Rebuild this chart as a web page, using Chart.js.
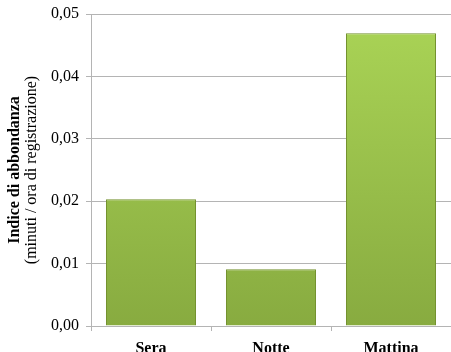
<!DOCTYPE html>
<html>
<head>
<meta charset="utf-8">
<script src="https://cdn.jsdelivr.net/npm/chart.js@4.4.0/dist/chart.umd.min.js"></script>
<style>
  html, body { margin: 0; padding: 0; background: #fff; }
  #wrap { width: 451px; height: 352px; }
</style>
</head>
<body>
<div id="wrap"><canvas id="chart" width="451" height="352"></canvas></div>
<script>
// Indice di abbondanza per fascia oraria
const categories = ['Sera', 'Notte', 'Mattina'];
const values = [0.0203, 0.0091, 0.0469];
const yTicks = [0, 0.01, 0.02, 0.03, 0.04, 0.05];
const titleLines = ['Indice di abbondanza', '(minuti / ora di registrazione)'];

const serif = "'Liberation Serif', 'DejaVu Serif', serif";

// bar fill: vertical green gradient
function barFill(ctx) {
    const area = ctx.chart.chartArea;
    if (!area) return '#9bc24a';
    const g = ctx.chart.ctx.createLinearGradient(0, area.top, 0, area.bottom);
    g.addColorStop(0, '#aad456');
    g.addColorStop(1, '#88ab40');
    return g;
}

// y axis title drawn by hand: first line bold, second normal
const axisTitle = {
    id: 'axisTitle',
    afterDraw(chart) {
        const { ctx, chartArea } = chart;
        const cy = (chartArea.top + chartArea.bottom) / 2;
        ctx.save();
        ctx.fillStyle = '#000';
        ctx.textAlign = 'center';
        ctx.textBaseline = 'alphabetic';
        ctx.translate(0, cy);
        ctx.rotate(-Math.PI / 2);
        ctx.font = 'bold 16px ' + serif;
        ctx.fillText(titleLines[0], 0, 19);
        ctx.font = '16px ' + serif;
        ctx.fillText(titleLines[1], 0, 36);
        ctx.restore();
    }
};

new Chart(document.getElementById('chart'), {
    type: 'bar',
    data: {
        labels: categories,
        datasets: [{
            data: values,
            backgroundColor: barFill,
            borderColor: '#74922f',
            borderWidth: 1,
            barPercentage: 0.75,
            categoryPercentage: 1
        }]
    },
    options: {
        responsive: false,
        animation: false,
        layout: { padding: { top: 0, right: 0, left: 0, bottom: 0 } },
        plugins: { legend: { display: false }, tooltip: { enabled: false } },
        scales: {
            x: {
                grid: { offset: true, drawOnChartArea: false, drawTicks: true, tickLength: 5, color: '#b4b4b4' },
                border: { color: '#b4b4b4' },
                ticks: { color: '#000', font: { family: serif, size: 16, weight: 'bold' }, padding: 8 },
                afterFit(scale) { scale.height = 26; }
            },
            y: {
                min: 0,
                max: 0.05,
                afterBuildTicks(scale) { scale.ticks = yTicks.map(v => ({ value: v })); },
                grid: { color: '#b4b4b4', tickLength: 5 },
                border: { color: '#b4b4b4' },
                ticks: {
                    color: '#000',
                    font: { family: serif, size: 16, lineHeight: 1.4 },
                    padding: 7,
                    callback: v => v.toFixed(2).replace('.', ',')
                },
                afterFit(scale) { scale.width = 91; scale.paddingTop = 14; }
            }
        }
    },
    plugins: [axisTitle]
});
</script>
</body>
</html>
